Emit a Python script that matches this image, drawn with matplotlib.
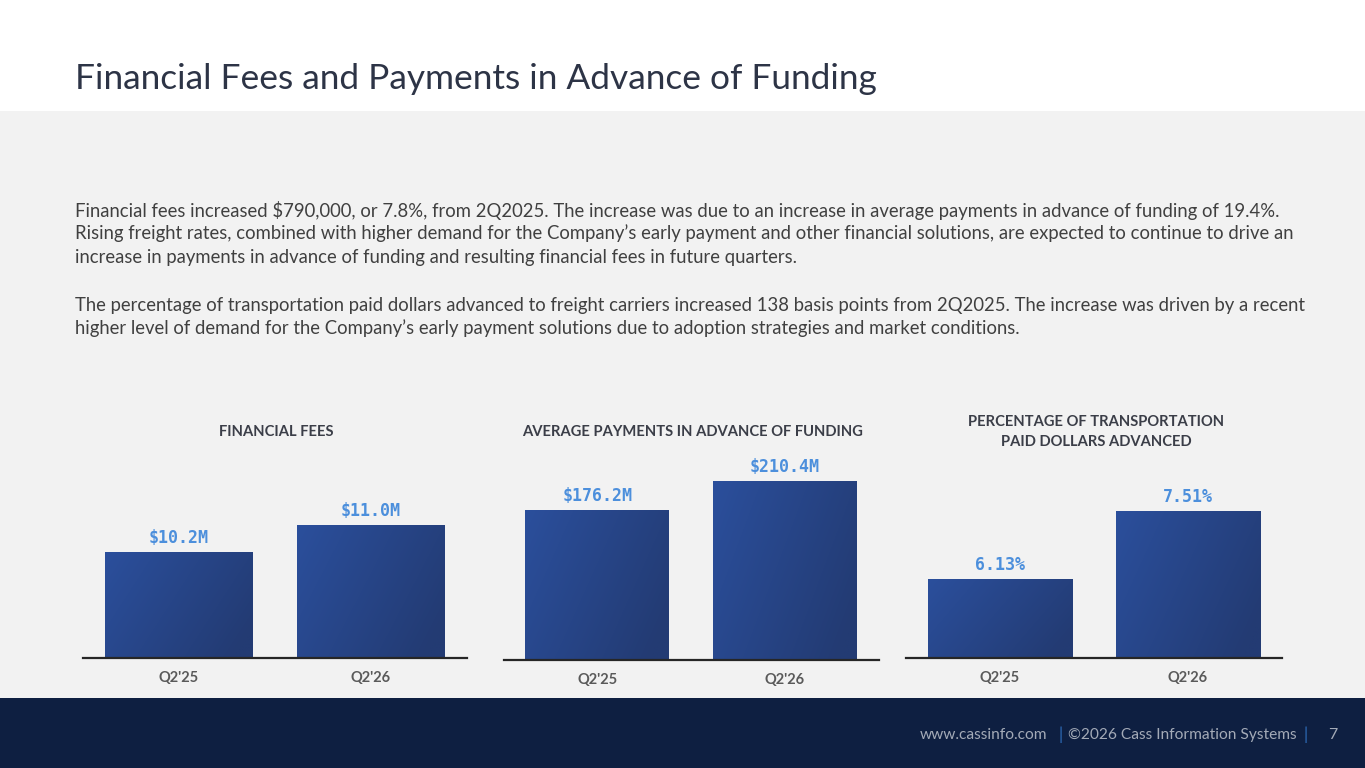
import numpy as np
import matplotlib
matplotlib.use("Agg")
import matplotlib.pyplot as plt
from matplotlib.patches import Rectangle

# ---------------- data ----------------
categories = ["Q2'25", "Q2'26"]
fees_values = [10.2, 11.0]
fees_labels = ["$10.2M", "$11.0M"]
advance_values = [176.2, 210.4]
advance_labels = ["$176.2M", "$210.4M"]
pct_values = [6.13, 7.51]
pct_labels = ["6.13%", "7.51%"]
chart_titles = ["FINANCIAL FEES",
                "AVERAGE PAYMENTS IN ADVANCE OF FUNDING",
                "PERCENTAGE OF TRANSPORTATION\nPAID DOLLARS ADVANCED"]
title = "Financial Fees and Payments in Advance of Funding"
para1 = ["Financial fees increased $790,000, or 7.8%, from 2Q2025. The increase was due to an increase in average payments in advance of funding of 19.4%.",
         "Rising freight rates, combined with higher demand for the Company\u2019s early payment and other financial solutions, are expected to continue to drive an",
         "increase in payments in advance of funding and resulting financial fees in future quarters."]
para2 = ["The percentage of transportation paid dollars advanced to freight carriers increased 138 basis points from 2Q2025. The increase was driven by a recent",
         "higher level of demand for the Company\u2019s early payment solutions due to adoption strategies and market conditions."]

W, H = 1365, 768
fig = plt.figure(figsize=(W / 100, H / 100), dpi=100)
fig.patch.set_facecolor("#F2F2F2")


def P(x, y):
    return x / W, 1 - y / H


# background bands
fig.patches.append(Rectangle((0, 1 - 111 / H), 1, 111 / H, transform=fig.transFigure,
                             facecolor="white", edgecolor="none", zorder=0))
fig.patches.append(Rectangle((0, 0), 1, 70 / H, transform=fig.transFigure,
                             facecolor="#0E1F41", edgecolor="none", zorder=0))

renderer = fig.canvas.get_renderer()


def fit(t, target_w):
    bb = t.get_window_extent(renderer)
    t.set_fontsize(t.get_fontsize() * target_w / bb.width)


BODY = ["Lato", "DejaVu Sans"]

# title
t = fig.text(*P(75, 89), title, fontsize=28, color="#2D3446", family=BODY,
             ha="left", va="baseline")
fit(t, 803)

# body text
body_color = "#404040"
ys1 = [216.5, 239.5, 262.5]
ys2 = [311, 334]
ref = fig.text(*P(75, ys1[1]), para1[1], fontsize=13, color=body_color, family=BODY,
               ha="left", va="baseline")
fit(ref, 1293 - 75)
fs_body = ref.get_fontsize()
for i, line in enumerate(para1):
    if i == 1:
        continue
    fig.text(*P(75, ys1[i]), line, fontsize=fs_body, color=body_color, family=BODY,
             ha="left", va="baseline")
for i, line in enumerate(para2):
    fig.text(*P(75, ys2[i]), line, fontsize=fs_body, color=body_color, family=BODY,
             ha="left", va="baseline")

# charts
charts = [
    dict(vals=fees_values, labels=fees_labels, x0=82.5, x1=466.5, base=658,
         ymin=7.06, ppu=33.75, title=chart_titles[0], ty=432),
    dict(vals=advance_values, labels=advance_labels, x0=503.5, x1=878.5, base=660,
         ymin=0.0, ppu=0.851, title=chart_titles[1], ty=432),
    dict(vals=pct_values, labels=pct_labels, x0=906, x1=1282, base=658,
         ymin=4.527, ppu=49.28, title=chart_titles[2], ty=432),
]

# gradient image for bars (lighter left/top, darker bottom-right)
gx, gy = np.meshgrid(np.linspace(0, 1, 64), np.linspace(0, 1, 64))
g = np.clip(gx * 0.75 + gy * 0.35, 0, 1)
c0 = np.array([0x2B, 0x4F, 0x9C]) / 255
c1 = np.array([0x23, 0x3B, 0x73]) / 255
grad = c0[None, None, :] * (1 - g[..., None]) + c1[None, None, :] * g[..., None]

top_px = 460
bar_w = 0.766
for c in charts:
    ax = fig.add_axes([c["x0"] / W, 1 - c["base"] / H, (c["x1"] - c["x0"]) / W,
                       (c["base"] - top_px) / H])
    ax.set_facecolor("none")
    ymax = c["ymin"] + (c["base"] - top_px) / c["ppu"]
    x = np.arange(len(categories))
    bars = ax.bar(x, c["vals"], width=bar_w, bottom=0, color="#27468A", zorder=2)
    for b, lab in zip(bars, c["labels"]):
        bx, bw, bh = b.get_x(), b.get_width(), b.get_height()
        im = ax.imshow(grad, extent=(bx, bx + bw, c["ymin"], bh), origin="upper",
                       aspect="auto", zorder=3, interpolation="bilinear")
        im.set_clip_path(b)
        ax.annotate(lab, (bx + bw / 2, bh), xytext=(0, 3.5), textcoords="offset points",
                    ha="center", va="bottom", fontsize=12, fontweight="bold",
                    family="DejaVu Sans Mono", color="#4C8FDC", zorder=4,
                    annotation_clip=False)
    ax.set_xlim(-0.5, 1.5)
    ax.set_ylim(c["ymin"], ymax)
    for s in ["top", "right", "left"]:
        ax.spines[s].set_visible(False)
    ax.spines["bottom"].set_color("#262626")
    ax.spines["bottom"].set_linewidth(1.6)
    ax.spines["bottom"].set_zorder(5)
    ax.set_yticks([])
    ax.set_xticks(x)
    ax.set_xticklabels(categories, fontsize=10.5, fontweight="bold", color="#5A5A5A",
                       family=BODY)
    ax.tick_params(axis="x", length=0, pad=9)
    cx = (c["x0"] + c["x1"]) / 2
    fig.text(*P(cx + 2, c["ty"]), c["title"], ha="center", va="center", fontsize=10.6,
             fontweight="bold", color="#3B3E48", family=BODY, linespacing=1.6)

# footer
fy = 735
fc = "#A3AAB7"
t1 = fig.text(*P(920, fy), "www.cassinfo.com", fontsize=11.5, color=fc, family=BODY,
              ha="left", va="center")
fit(t1, 128)
fig.text(*P(1061, fy), "|", fontsize=12, color="#2E6FBF", family=BODY,
         ha="center", va="center")
t2 = fig.text(*P(1068, fy), "\u00a92026 Cass Information Systems", fontsize=11.5,
              color=fc, family=BODY, ha="left", va="center")
fit(t2, 229)
fig.text(*P(1306, fy), "|", fontsize=12, color="#2E6FBF", family=BODY,
         ha="center", va="center")
fig.text(*P(1333, fy), "7", fontsize=11.5, color=fc, family=BODY,
         ha="center", va="center")

fig.savefig("out.png", dpi=100, facecolor=fig.get_facecolor())
